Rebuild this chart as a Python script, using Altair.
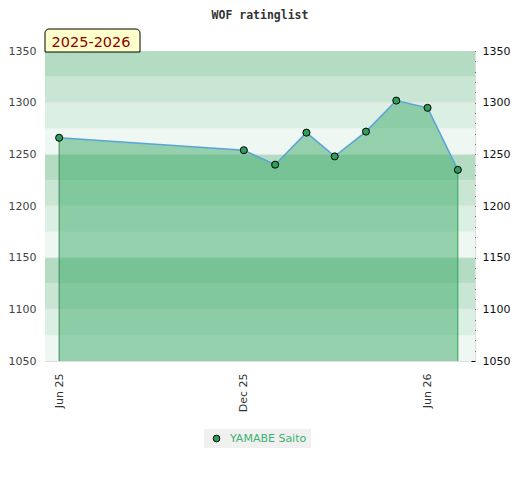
import altair as alt
import pandas as pd

# ---- data ----
player = "YAMABE Saito"
dates = ["2025-06-01", "2025-12-01", "2026-01-01", "2026-02-01", "2026-03-01",
         "2026-04-01", "2026-05-01", "2026-06-01", "2026-07-01"]
ratings = [1266, 1254, 1240, 1271, 1248, 1272, 1302, 1295, 1235]

y_min, y_max = 1050, 1350
band_lows = list(range(1050, 1350, 25))
grid_values = [1100, 1150, 1200, 1250, 1300]
label_values = [1050, 1100, 1150, 1200, 1250, 1300, 1350]
minor_values = list(range(1050, 1351, 10))
x_tick_dates = ["2025-06-01", "2025-12-01", "2026-06-01"]
season = "2025-2026"

df = pd.DataFrame({"date": dates, "rating": ratings, "player": player})
bands = pd.DataFrame({"low": band_lows})
bands["high"] = bands["low"] + 25
bands["kind"] = ((bands["low"] - y_min) // 25) % 4
grid = pd.DataFrame({"v": grid_values})
edges = df.iloc[[0, len(df) - 1]].copy()
edges["side"] = ["first", "last"]

W, H = 430, 310
FONT = "DejaVu Sans"

xscale = alt.Scale(type="utc", domain=["2025-05-18", "2026-07-18"])
yscale = alt.Scale(domain=[y_min, y_max], zero=False, nice=False)

band_layer = alt.Chart(bands).mark_rect().encode(
    x=alt.value(0), x2=alt.value(W),
    y=alt.Y("low:Q", scale=yscale, axis=alt.Axis(
        orient="left", values=label_values, format="d", ticks=False, domain=False, grid=False,
        labelColor="#444444", labelFontSize=11, labelFont=FONT, labelPadding=9,
        title=None)),
    y2="high:Q",
    color=alt.Color("kind:O", legend=None,
                    scale=alt.Scale(domain=[0, 1, 2, 3],
                                    range=["#eef7f1", "#dcefe3", "#c9e6d4", "#b3dcc3"])),
)

grid_layer = alt.Chart(grid).mark_rule(color="#e2e8e4", strokeWidth=1).encode(
    y=alt.Y("v:Q", scale=yscale, axis=None),
)

area_layer = alt.Chart(df).mark_area(color="#3caa6a", opacity=0.5, interpolate="linear").encode(
    x=alt.X("date:T", scale=xscale, axis=alt.Axis(
        orient="bottom", values=[alt.DateTime(year=int(d[:4]), month=int(d[5:7]), date=int(d[8:]), utc=True) for d in x_tick_dates],
        format="%b %y", labelAngle=270, ticks=False, domain=False, grid=False,
        labelColor="#333333", labelFontSize=11, labelFont=FONT, labelPadding=12,
        title=None)),
    y=alt.Y("rating:Q", scale=yscale, axis=None),
    y2=alt.datum(y_min),
)

edge_layer = alt.Chart(edges).mark_rule(strokeWidth=1).encode(
    x=alt.X("date:T", scale=xscale),
    y=alt.Y("rating:Q", scale=yscale, axis=None),
    y2=alt.datum(y_min),
    color=alt.Color("side:N", legend=None,
                    scale=alt.Scale(domain=["first", "last"], range=["#3d8c57", "#2aa852"])),
)

line_layer = alt.Chart(df).mark_line(color="#5aa3d9", strokeWidth=1.5).encode(
    x=alt.X("date:T", scale=xscale),
    y=alt.Y("rating:Q", scale=yscale, axis=None),
)

point_layer = alt.Chart(df).mark_point(filled=True, size=50, stroke="black", strokeWidth=1,
                                       opacity=1, shape="circle").encode(
    x=alt.X("date:T", scale=xscale),
    y=alt.Y("rating:Q", scale=yscale, axis=alt.Axis(
        orient="right", values=minor_values, format="d",
        labelExpr="datum.value % 50 == 0 ? datum.label : ''",
        tickSize=4, tickColor="#000000", tickWidth=1, offset=-4, labelPadding=7,
        domain=False, grid=False, labelOverlap=False,
        labelColor="#111111", labelFontSize=11, labelFont=FONT, title=None)),
    fill=alt.Fill("player:N", scale=alt.Scale(domain=[player], range=["#2e9e5b"]),
                  legend=alt.Legend(orient="none", legendX=159, legendY=378, title=None,
                                    fillColor="#f0f0f0", padding=4, symbolOffset=3,
                                    labelColor="#3cb371", labelFontSize=11, labelFont=FONT,
                                    labelOffset=8, symbolType="circle", symbolSize=45,
                                    symbolStrokeColor="#000000", symbolStrokeWidth=1,
                                    symbolFillColor="#2e9e5b")),
)

box_layer = alt.Chart(pd.DataFrame({"t": [season]})).mark_rect(
    fill="#ffffcc", stroke="#000000", strokeWidth=1,
    cornerRadiusTopLeft=4, cornerRadiusTopRight=4).encode(
    x=alt.value(0), x2=alt.value(95), y=alt.value(-22), y2=alt.value(1),
)

box_text = alt.Chart(pd.DataFrame({"t": [season]})).mark_text(
    align="left", baseline="alphabetic", font=FONT, fontSize=14.5, color="#8b0000").encode(
    x=alt.value(6.5), y=alt.value(-4.5), text="t:N",
)

chart = alt.layer(
    band_layer, grid_layer, area_layer, edge_layer, line_layer, point_layer, box_layer, box_text
).resolve_axis(y="independent").resolve_scale(color="independent").properties(
    width=W, height=H,
    title=alt.Title("WOF ratinglist", font="DejaVu Sans Mono", fontSize=11.5, fontWeight="bold",
                    color="#333333", anchor="middle", offset=7),
    padding={"left": 0, "top": 2, "right": 0, "bottom": 5},
).configure_view(stroke="#dddddd", strokeWidth=1)

chart.save("out.html", embed_options={"renderer": "svg", "actions": False})
